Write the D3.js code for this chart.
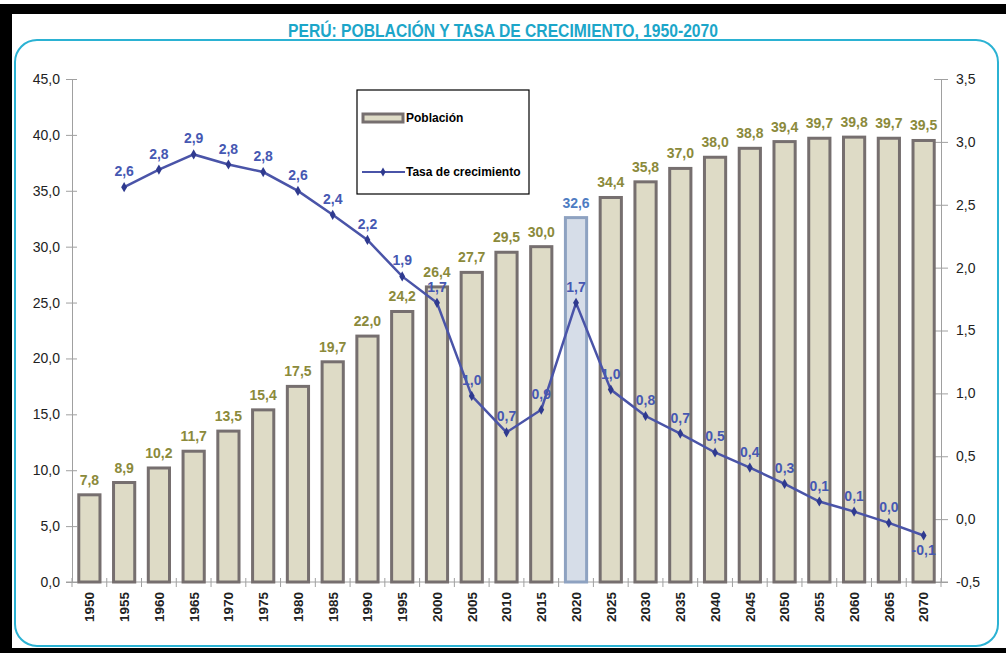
<!DOCTYPE html>
<html>
<head>
<meta charset="utf-8">
<script src="https://cdn.jsdelivr.net/npm/d3@7"></script>
<style>
  body { margin: 0; background: #fff; }
  svg { display: block; font-family: "Liberation Sans", Arial, sans-serif; }
  .axis path, .axis line { stroke: #a0a0a0; }
  .axis text { fill: #222; }
</style>
</head>
<body>
<svg width="1006" height="653"></svg>
<script>
// ---- data ----
var years = ["1950","1955","1960","1965","1970","1975","1980","1985","1990","1995","2000","2005",
             "2010","2015","2020","2025","2030","2035","2040","2045","2050","2055","2060","2065","2070"];
var poblacion = [7.8, 8.9, 10.2, 11.7, 13.5, 15.4, 17.5, 19.7, 22.0, 24.2, 26.4, 27.7,
                 29.5, 30.0, 32.6, 34.4, 35.8, 37.0, 38.0, 38.8, 39.4, 39.7, 39.8, 39.7, 39.5];
// tasa de crecimiento starts in 1955
var tasaYears = years.slice(1);
var tasa = [2.64, 2.78, 2.90, 2.82, 2.76, 2.61, 2.42, 2.22, 1.93, 1.72, 0.98, 0.69,
            0.87, 1.72, 1.03, 0.82, 0.68, 0.53, 0.41, 0.28, 0.14, 0.06, -0.03, -0.13];
var leftTicks = [0, 5, 10, 15, 20, 25, 30, 35, 40, 45];
var rightTicks = [-0.5, 0, 0.5, 1, 1.5, 2, 2.5, 3, 3.5];
var highlightYear = "2020";

var svg = d3.select("svg");
var plot = { left: 72, right: 941, top: 79, bottom: 582 };

// decimal comma, plain hyphen for negatives
var fmt = function(v) {
  var s = d3.format(".1f")(v).replace(".", ",").replace("\u2212", "-");
  return s === "-0,0" ? "0,0" : s;
};

// frame
svg.append("rect").attr("x", 0).attr("y", 4).attr("width", 1006).attr("height", 10).attr("fill", "#000");
svg.append("rect").attr("x", 0).attr("y", 4).attr("width", 12).attr("height", 649).attr("fill", "#000");
svg.append("rect")
    .attr("x", 15).attr("y", 40).attr("width", 983).attr("height", 606)
    .attr("rx", 22).attr("ry", 22)
    .attr("fill", "#fff").attr("stroke", "#2bb2d3").attr("stroke-width", 2);
svg.append("rect").attr("x", 0).attr("y", 648).attr("width", 1006).attr("height", 5).attr("fill", "#000");

svg.append("text")
    .attr("x", 503).attr("y", 37)
    .attr("text-anchor", "middle")
    .attr("textLength", 430).attr("lengthAdjust", "spacingAndGlyphs")
    .style("font-size", "18px").style("font-weight", "bold")
    .attr("fill", "#1ca6c9")
    .text("PERÚ: POBLACIÓN Y TASA DE CRECIMIENTO, 1950-2070");

// scales
var x = d3.scaleBand().domain(years).range([plot.left, plot.right])
    .paddingInner(0.39).paddingOuter(0.195);
var y = d3.scaleLinear().domain([0, 45]).range([plot.bottom, plot.top]);
var y2 = d3.scaleLinear().domain([-0.5, 3.5]).range([plot.bottom, plot.top]);
var step = x.step();

// axes
var yAxis = d3.axisLeft(y).tickValues(leftTicks).tickFormat(fmt).tickSizeInner(6).tickSizeOuter(0);
var gy = svg.append("g").attr("class", "axis").attr("transform", "translate(" + plot.left + ",0)").call(yAxis);
gy.selectAll(".tick line").attr("x2", -6).attr("x1", 5);
gy.selectAll("text").attr("x", -12).style("font-size", "14px");

var yAxis2 = d3.axisRight(y2).tickValues(rightTicks).tickFormat(fmt).tickSizeInner(7).tickSizeOuter(0);
var gy2 = svg.append("g").attr("class", "axis").attr("transform", "translate(" + plot.right + ",0)").call(yAxis2);
gy2.selectAll(".tick line").attr("x1", -7).attr("x2", 7);
gy2.selectAll("text").attr("x", 15).style("font-size", "14px");

// bottom axis: ticks at band boundaries
var gx = svg.append("g").attr("class", "axis");
gx.append("line")
    .attr("x1", plot.left - 6).attr("x2", plot.right + 7)
    .attr("y1", plot.bottom).attr("y2", plot.bottom);
gx.selectAll(".bt").data(d3.range(years.length + 1)).enter().append("line")
    .attr("x1", function(i) { return plot.left + i * step; })
    .attr("x2", function(i) { return plot.left + i * step; })
    .attr("y1", plot.bottom - 4).attr("y2", plot.bottom + 5);
gx.selectAll(".yl").data(years).enter().append("text")
    .attr("transform", function(d) { return "translate(" + (x(d) + x.bandwidth() / 2) + "," + (plot.bottom + 10) + ") rotate(-90)"; })
    .attr("text-anchor", "end").attr("dy", "0.36em")
    .style("font-size", "13.5px").style("font-weight", "bold")
    .text(function(d) { return d; });

// bars
svg.selectAll(".bar").data(years).enter().append("rect")
    .attr("x", function(d) { return x(d); })
    .attr("width", x.bandwidth())
    .attr("y", function(d, i) { return y(poblacion[i]); })
    .attr("height", function(d, i) { return y(0) - y(poblacion[i]); })
    .attr("fill", function(d) { return d === highlightYear ? "#d6dde8" : "#dedbc6"; })
    .attr("stroke", function(d) { return d === highlightYear ? "#8ea2c1" : "#766f6f"; })
    .attr("stroke-width", 3);

svg.selectAll(".blab").data(years).enter().append("text")
    .attr("x", function(d) { return x(d) + x.bandwidth() / 2; })
    .attr("y", function(d, i) { return y(poblacion[i]) - 10; })
    .attr("text-anchor", "middle")
    .style("font-size", "14px").style("font-weight", "bold")
    .attr("fill", function(d) { return d === highlightYear ? "#4e7cc2" : "#8b8a3b"; })
    .text(function(d, i) { return fmt(poblacion[i]); });

// line
var cx = function(d, i) { return x(tasaYears[i]) + x.bandwidth() / 2; };
var line = d3.line().x(cx).y(function(d) { return y2(d); });
svg.append("path").datum(tasa)
    .attr("d", line)
    .attr("fill", "none").attr("stroke", "#4a54a8").attr("stroke-width", 2.5);

svg.selectAll(".pt").data(tasa).enter().append("path")
    .attr("d", d3.symbol().type(d3.symbolDiamond).size(30))
    .attr("transform", function(d, i) { return "translate(" + cx(d, i) + "," + y2(d) + ")"; })
    .attr("fill", "#2f3a8f");

// labels above the points, except the last one which Excel put below
svg.selectAll(".tlab").data(tasa).enter().append("text")
    .attr("x", cx)
    .attr("y", function(d, i) { return i === tasa.length - 1 ? y2(d) + 20 : y2(d) - 11; })
    .attr("text-anchor", "middle")
    .style("font-size", "14px").style("font-weight", "bold")
    .attr("fill", "#4658b2")
    .text(function(d) { return fmt(d); });

// legend
var lg = svg.append("g").attr("transform", "translate(357,90)");
lg.append("rect").attr("width", 172).attr("height", 104)
    .attr("fill", "#fff").attr("stroke", "#000").attr("stroke-width", 1.2);
lg.append("rect").attr("x", 6).attr("y", 24).attr("width", 40).attr("height", 8)
    .attr("fill", "#dedbc6").attr("stroke", "#766f6f").attr("stroke-width", 3);
lg.append("text").attr("x", 49).attr("y", 28).attr("dy", "0.35em")
    .style("font-size", "12px").style("font-weight", "bold").text("Población");
lg.append("line").attr("x1", 5).attr("x2", 48).attr("y1", 82).attr("y2", 82)
    .attr("stroke", "#4a54a8").attr("stroke-width", 2);
lg.append("path").attr("d", d3.symbol().type(d3.symbolDiamond).size(24))
    .attr("transform", "translate(26,82)").attr("fill", "#2f3a8f");
lg.append("text").attr("x", 49).attr("y", 82).attr("dy", "0.35em")
    .style("font-size", "12px").style("font-weight", "bold").text("Tasa de crecimiento");
</script>
</body>
</html>
